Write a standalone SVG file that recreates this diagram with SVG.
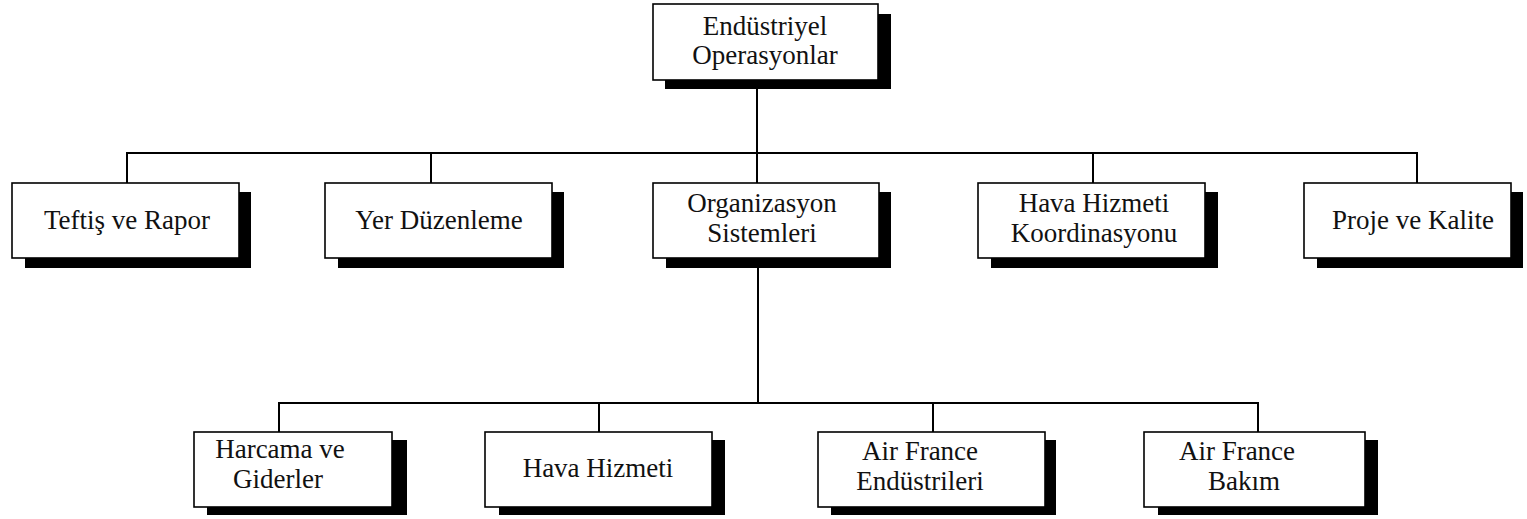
<svg xmlns="http://www.w3.org/2000/svg" width="1527" height="519" viewBox="0 0 1527 519">
  <style>
    .shadow { fill: #000; }
    .box { fill: #fff; stroke: #000; stroke-width: 1.6; }
    .label { font-family: "Liberation Serif", "Times New Roman", serif; font-size: 27px; fill: #111; text-anchor: middle; }
    .wire { fill: none; stroke: #000; stroke-width: 2; }
  </style>
  <rect width="1527" height="519" fill="#fff"/>

  <!-- connectors -->
  <g id="connectors">
    <path class="wire" d="M757 80 V183"/>
    <path class="wire" d="M127 183 V153 H1417 V183"/>
    <path class="wire" d="M431 153 V183"/>
    <path class="wire" d="M1093 153 V183"/>
    <path class="wire" d="M758 258 V403"/>
    <path class="wire" d="M279 432 V403 H1258 V432"/>
    <path class="wire" d="M599 403 V432"/>
    <path class="wire" d="M933 403 V432"/>
  </g>

  <!-- top level -->
  <g id="endustriyel-operasyonlar">
    <rect class="shadow" x="665" y="14" width="226" height="75"/>
    <rect class="box" x="653" y="4" width="225" height="76"/>
    <text class="label" x="765" y="35">Endüstriyel</text>
    <text class="label" x="765" y="64">Operasyonlar</text>
  </g>

  <!-- second level -->
  <g id="teftis-ve-rapor">
    <rect class="shadow" x="25" y="192" width="226" height="76"/>
    <rect class="box" x="12" y="183" width="227" height="75"/>
    <text class="label" x="127" y="229">Teftiş ve Rapor</text>
  </g>
  <g id="yer-duzenleme">
    <rect class="shadow" x="338" y="192" width="226" height="76"/>
    <rect class="box" x="325" y="183" width="227" height="75"/>
    <text class="label" x="439" y="229">Yer Düzenleme</text>
  </g>
  <g id="organizasyon-sistemleri">
    <rect class="shadow" x="666" y="192" width="225" height="76"/>
    <rect class="box" x="653" y="183" width="226" height="75"/>
    <text class="label" x="762" y="212">Organizasyon</text>
    <text class="label" x="762" y="242">Sistemleri</text>
  </g>
  <g id="hava-hizmeti-koordinasyonu">
    <rect class="shadow" x="991" y="192" width="227" height="76"/>
    <rect class="box" x="978" y="183" width="227" height="75"/>
    <text class="label" x="1094" y="212">Hava Hizmeti</text>
    <text class="label" x="1094" y="242">Koordinasyonu</text>
  </g>
  <g id="proje-ve-kalite">
    <rect class="shadow" x="1317" y="192" width="206" height="76"/>
    <rect class="box" x="1304" y="183" width="207" height="75"/>
    <text class="label" x="1413" y="229">Proje ve Kalite</text>
  </g>

  <!-- third level -->
  <g id="harcama-ve-giderler">
    <rect class="shadow" x="207" y="440" width="200" height="75"/>
    <rect class="box" x="194" y="432" width="198" height="75"/>
    <text class="label" x="280" y="458">Harcama ve</text>
    <text class="label" x="278" y="488">Giderler</text>
  </g>
  <g id="hava-hizmeti">
    <rect class="shadow" x="499" y="440" width="226" height="75"/>
    <rect class="box" x="485" y="432" width="227" height="75"/>
    <text class="label" x="598" y="477">Hava Hizmeti</text>
  </g>
  <g id="air-france-endustrileri">
    <rect class="shadow" x="831" y="440" width="225" height="75"/>
    <rect class="box" x="818" y="432" width="227" height="75"/>
    <text class="label" x="920" y="460">Air France</text>
    <text class="label" x="920" y="490">Endüstrileri</text>
  </g>
  <g id="air-france-bakim">
    <rect class="shadow" x="1158" y="440" width="220" height="75"/>
    <rect class="box" x="1144" y="432" width="221" height="75"/>
    <text class="label" x="1237" y="460">Air France</text>
    <text class="label" x="1244" y="490">Bakım</text>
  </g>
</svg>
